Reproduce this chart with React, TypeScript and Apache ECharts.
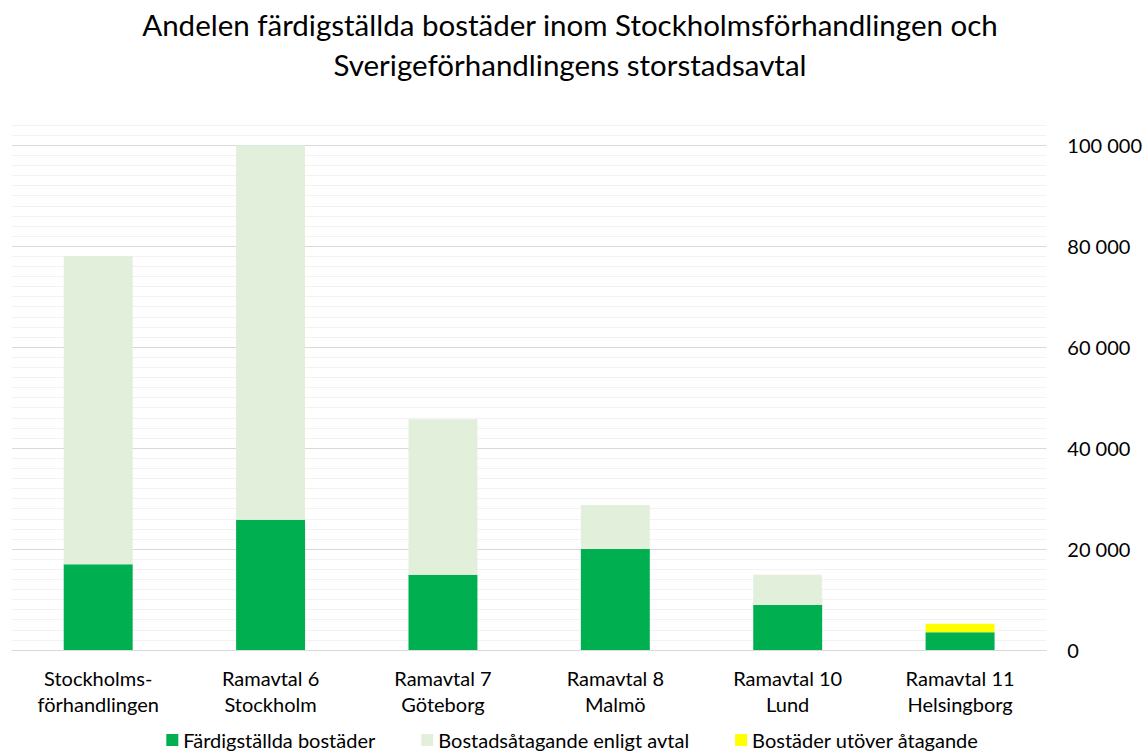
import React, { useEffect, useRef } from "react";
import * as echarts from "echarts";

const categories = [
  "Stockholms-\nförhandlingen",
  "Ramavtal 6\nStockholm",
  "Ramavtal 7\nGöteborg",
  "Ramavtal 8\nMalmö",
  "Ramavtal 10\nLund",
  "Ramavtal 11\nHelsingborg",
];
const completed = [17000, 25800, 14900, 20000, 8900, 3500];
const commitmentRemaining = [61000, 74200, 30800, 8700, 6000, 0];
const beyondCommitment = [0, 0, 0, 0, 0, 1700];
const seriesNames = [
  "Färdigställda bostäder",
  "Bostadsåtagande enligt avtal",
  "Bostäder utöver åtagande",
];
const titleText =
  "Andelen färdigställda bostäder inom Stockholmsförhandlingen och\nSverigeförhandlingens storstadsavtal";

const FONT = "Lato, 'Liberation Sans', sans-serif";

const fmt = (v: number) =>
  String(v).replace(/\B(?=(\d{3})+(?!\d))/g, " ");

export default function App() {
  const ref = useRef<HTMLDivElement>(null);
  useEffect(() => {
    document.body.style.margin = "0";
    if (!ref.current) return;
    const chart = echarts.init(ref.current, undefined, { renderer: "svg" });
    const splitColors = ["#d9d9d9"].concat(new Array(9).fill("#f2f2f2"));
    chart.setOption({
      animation: false,
      textStyle: { fontFamily: FONT },
      title: {
        text: titleText,
        left: 565,
        top: -1,
        textAlign: "center",
        textStyle: {
          fontFamily: FONT,
          fontSize: 29.5,
          fontWeight: "normal",
          color: "#000",
          lineHeight: 40,
        },
      },
      legend: {
        bottom: 1,
        left: "center",
        itemWidth: 12,
        itemHeight: 12,
        itemGap: 46,
        icon: "rect",
        textStyle: { fontFamily: FONT, fontSize: 20, color: "#000" },
        data: seriesNames,
      },
      grid: { left: 12, right: 93, top: 125, bottom: 106 },
      xAxis: {
        type: "category",
        data: categories,
        axisLine: { lineStyle: { color: "#d9d9d9", width: 1 } },
        axisTick: { show: false },
        axisLabel: {
          margin: 15,
          fontSize: 20,
          lineHeight: 26,
          color: "#000",
          fontFamily: FONT,
          interval: 0,
        },
      },
      yAxis: {
        type: "value",
        position: "right",
        min: 0,
        max: 104000,
        interval: 2000,
        axisLine: { show: false },
        axisTick: { show: false },
        axisLabel: {
          margin: 21,
          fontSize: 20,
          color: "#000",
          fontFamily: FONT,
          formatter: (v: number) => (v % 20000 === 0 ? fmt(v) : ""),
        },
        splitLine: { lineStyle: { color: splitColors, width: 1 } },
      },
      series: [
        {
          name: seriesNames[0],
          type: "bar",
          stack: "total",
          barWidth: "40%",
          data: completed,
          itemStyle: { color: "#00b050" },
        },
        {
          name: seriesNames[1],
          type: "bar",
          stack: "total",
          barWidth: "40%",
          data: commitmentRemaining,
          itemStyle: { color: "#e2efda" },
        },
        {
          name: seriesNames[2],
          type: "bar",
          stack: "total",
          barWidth: "40%",
          data: beyondCommitment,
          itemStyle: { color: "#ffff00" },
        },
      ],
    });
    return () => chart.dispose();
  }, []);
  return <div ref={ref} style={{ width: 1145, height: 756 }} />;
}
